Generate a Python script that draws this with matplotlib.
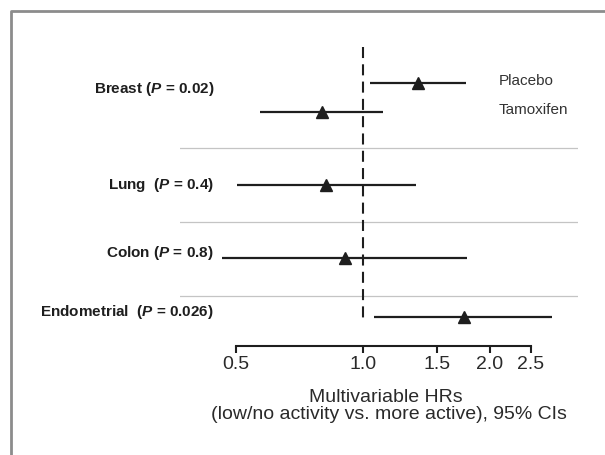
import numpy as np
import matplotlib
matplotlib.use("Agg")
from matplotlib import pyplot as plt
from matplotlib.lines import Line2D

plt.rcParams['font.family'] = ['Liberation Sans', 'DejaVu Sans']
plt.rcParams['mathtext.fontset'] = 'custom'
plt.rcParams['mathtext.bfit'] = 'Liberation Sans:italic:bold'

# rows of the forest plot (breast has two rows: placebo and tamoxifen)
hr = [1.35, 0.80, 0.817, 0.906, 1.735]
ci_low = [1.04, 0.57, 0.503, 0.463, 1.062]
ci_high = [1.755, 1.115, 1.335, 1.764, 2.806]
row_y = [83, 112, 185, 258, 317]          # vertical slot of each row

site_labels = [r"Breast ($\mathbfit{P}$ = 0.02)",
               r"Lung  ($\mathbfit{P}$ = 0.4)",
               r"Colon ($\mathbfit{P}$ = 0.8)",
               r"Endometrial  ($\mathbfit{P}$ = 0.026)"]
site_label_y = [89, 185, 253, 312]
arm_labels = ["Placebo", "Tamoxifen"]
arm_label_y = [81, 110]
separator_y = [148, 222, 296]

ticks = [0.5, 1.0, 1.5, 2.0, 2.5]
tick_labels = ["0.5", "1.0", "1.5", "2.0", "2.5"]

W, H = 605, 455
fig = plt.figure(figsize=(W / 100, H / 100), dpi=100)
ax = fig.add_axes([180 / W, (H - 346) / H, 398 / W, (346 - 40) / H])
ax.set_xscale('log')
ax.set_xlim(0.3683, 3.234)
ax.set_ylim(346, 40)

ink = '#1e1e1e'
# separators between cancer sites
for y in separator_y:
    ax.axhline(y, color='#c4c4c4', lw=0.9, zorder=1)

# reference line at HR = 1
ax.plot([1, 1], [47, 318], color=ink, lw=1.5, ls=(0, (5.3, 3.0)), zorder=2)

# CIs and point estimates
ax.hlines(row_y, ci_low, ci_high, color=ink, lw=1.6, zorder=3)
ax.plot(hr, row_y, '^', color=ink, ms=8, zorder=4)

ytr = ax.get_yaxis_transform()
for lab, y in zip(site_labels, site_label_y):
    ax.text((214 - 180) / 398, y, lab, transform=ytr, ha='right', va='center',
            fontsize=11, fontweight='bold', color=ink)
for lab, y in zip(arm_labels, arm_label_y):
    ax.text((499 - 180) / 398, y, lab, transform=ytr, ha='left', va='center',
            fontsize=11, color='#333333')

# axis
for s in ['left', 'right', 'top']:
    ax.spines[s].set_visible(False)
ax.spines['bottom'].set_bounds(0.5, 2.5)
ax.spines['bottom'].set_linewidth(1.5)
ax.spines['bottom'].set_color(ink)
ax.set_yticks([])
ax.set_xticks(ticks)
ax.set_xticklabels(tick_labels)
ax.xaxis.set_minor_locator(matplotlib.ticker.NullLocator())
ax.tick_params(axis='x', direction='out', length=5, width=1.5, color=ink,
               labelsize=14, pad=2.5, labelcolor='#2a2a2a')

fig.text(386 / W, 1 - 402 / H, "Multivariable HRs", ha='center', va='baseline',
         fontsize=14, color='#2a2a2a')
fig.text(389 / W, 1 - 419 / H, "(low/no activity vs. more active), 95% CIs",
         ha='center', va='baseline', fontsize=14, color='#2a2a2a')

# gray frame (cut off at right and bottom)
bx, by = 11.3 / W, 1 - 11.3 / H
fig.add_artist(Line2D([bx, bx, 1.01], [-0.01, by, by], transform=fig.transFigure,
                      color='#8c8c8c', lw=2.0))

fig.savefig('out.png', dpi=100)
